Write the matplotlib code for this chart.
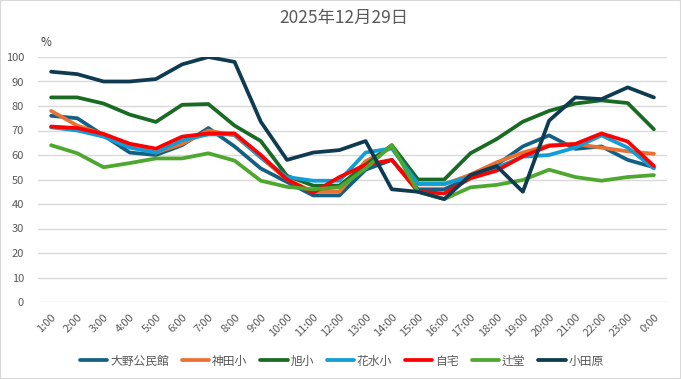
import matplotlib
matplotlib.use("Agg")
import matplotlib.pyplot as plt
from matplotlib.patches import Rectangle

plt.rcParams["font.family"] = ["Noto Sans CJK JP", "DejaVu Sans"]

hours = [f"{h}:00" for h in range(1, 24)] + ["0:00"]

oono = [76, 75, 68, 61, 60, 64, 71, 63.5, 54.5, 49, 43.5, 43.5, 54, 58, 46, 46, 51, 56, 63.5, 68, 62.5, 63.5, 58, 55]
kanda = [78, 72, 68.5, 63.5, 61, 64.5, 70, 68, 59, 50, 45, 45, 57.5, 63, 48, 48, 52, 57, 61, 64, 64.5, 63, 61.5, 60.5]
asahi = [83.5, 83.5, 81, 76.5, 73.5, 80.5, 80.8, 72, 65.7, 51.5, 47.5, 47.5, 56, 64, 50, 50, 60.7, 66.5, 73.6, 78, 81, 82.3, 81.2, 70.5]
hanamizu = [71.3, 70, 67.5, 63, 61, 66, 68.4, 68.4, 59, 51, 49.5, 49.5, 61, 62.7, 48.3, 48.3, 51, 54.8, 59.3, 60, 63, 68, 63, 54.5]
jitaku = [71.6, 71, 68.6, 64.6, 62.6, 67.5, 68.8, 68.8, 60, 50, 44.6, 51, 56, 58, 45, 44.3, 50.5, 53.6, 59.5, 63.7, 64.5, 68.8, 65.5, 55.5]
tsujido = [64, 60.7, 55, 56.7, 58.6, 58.6, 60.7, 57.7, 49.5, 47, 46, 46.8, 54.5, 64, 45, 42, 46.8, 47.8, 49.8, 54, 51, 49.5, 51, 51.8]
odawara = [94, 93, 90, 90, 91, 97, 100, 98, 73.6, 58, 61, 62, 65.7, 46, 45, 42, 51.8, 55.5, 45, 74, 83.5, 82.8, 87.6, 83.5]

series = [
    ("大野公民館", oono, "#156082"),
    ("神田小", kanda, "#E97132"),
    ("旭小", asahi, "#196B24"),
    ("花水小", hanamizu, "#0F9ED5"),
    ("自宅", jitaku, "#FF0000"),
    ("辻堂", tsujido, "#4EA72E"),
    ("小田原", odawara, "#0E3A52"),
]

fig = plt.figure(figsize=(6.81, 3.79), dpi=100)
ax = fig.add_axes([38 / 681, 1 - 302 / 379, 629 / 681, 245 / 379])

x = list(range(len(hours)))
for name, vals, color in series:
    ax.plot(x, vals, color=color, lw=2.7, label=name, solid_joinstyle="round", solid_capstyle="round")

ax.set_xlim(-0.5, len(hours) - 0.5)
ax.set_ylim(0, 100)
ax.set_yticks(range(0, 101, 10))
ax.set_xticks(x)
ax.set_xticklabels(hours, rotation=45, ha="right", rotation_mode="anchor")
ax.tick_params(axis="both", length=0, labelsize=8, labelcolor="#595959")
ax.tick_params(axis="y", pad=10)
ax.tick_params(axis="x", pad=7)
ax.grid(axis="y", color="#D9D9D9", lw=1)
ax.set_axisbelow(True)
for s in ax.spines.values():
    s.set_visible(False)

fig.text(344 / 681, 1 - 18 / 379, "2025年12月29日", ha="center", va="center", fontsize=12.5, color="#595959")
fig.text(46 / 681, 1 - 42 / 379, "%", ha="center", va="center", fontsize=8.5, color="#404040")

leg = fig.legend(loc="center", bbox_to_anchor=(342 / 681, 1 - 361 / 379), ncol=7, frameon=False,
                 fontsize=8.5, handlelength=2.3, handletextpad=0.25, columnspacing=1.1)
for t in leg.get_texts():
    t.set_color("#595959")

fig.patches.append(Rectangle((0, 0), 1, 1, transform=fig.transFigure, fill=False,
                             edgecolor="#D9D9D9", lw=1.5))

fig.savefig("out.png", dpi=100)
